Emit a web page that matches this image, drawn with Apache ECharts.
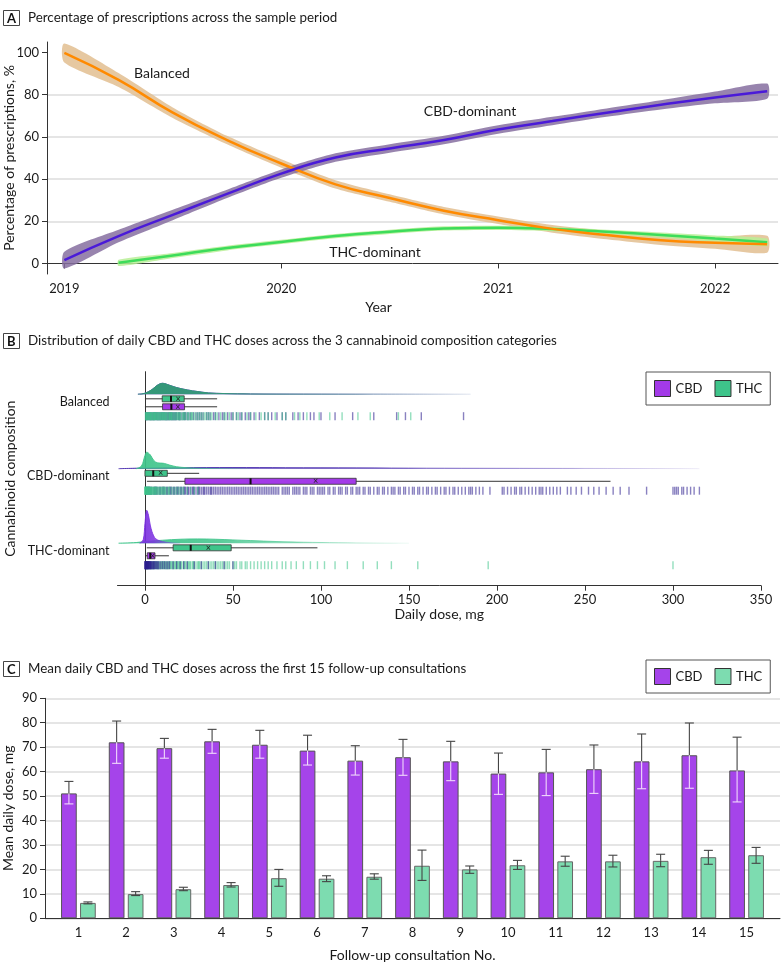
<!DOCTYPE html>
<html><head><meta charset="utf-8">
<script src="https://cdn.jsdelivr.net/npm/echarts@6/dist/echarts.min.js"></script>
<style>html,body{margin:0;padding:0;background:#fff}#c{width:783px;height:974px}</style>
</head><body><div id="c"></div>
<script>
// ---------- Panel A data ----------
const yearTicks = [2019, 2020, 2021, 2022];
const pctTicks = [0, 20, 40, 60, 80, 100];
const yearsA = [2019.0, 2019.25, 2019.5, 2019.75, 2020.0, 2020.25, 2020.5, 2020.75, 2021.0, 2021.25, 2021.5, 2021.75, 2022.0, 2022.24];
const balancedMean  = [99.8, 87, 71.5, 58.5, 47.4, 37.5, 31, 25, 20.5, 16.4, 13.5, 11, 9.8, 9.1];
const balancedUpper = [104.3, 90.3, 74, 60.5, 49.4, 39.5, 32.8, 26.8, 22.3, 18.2, 15.5, 13.2, 12.6, 13.1];
const balancedLower = [95.3, 83.7, 69, 56.5, 45.4, 35.5, 29.2, 23.2, 18.7, 14.6, 11.5, 8.8, 7.0, 5.1];
const cbdDomMean  = [1.6, 13, 23, 33, 42.6, 50.2, 54.5, 58.5, 63.5, 67.5, 71.5, 75.2, 78.7, 81.7];
const cbdDomUpper = [5.6, 16, 25.5, 35, 44.6, 52.2, 56.5, 60.5, 65.5, 69.5, 73.5, 77.4, 81.5, 85.3];
const cbdDomLower = [-2.4, 10, 20.5, 31, 40.6, 48.2, 52.5, 56.5, 61.5, 65.5, 69.5, 73.0, 75.9, 78.1];
const yearsTHC = [2019.25, 2019.5, 2019.75, 2020.0, 2020.25, 2020.5, 2020.75, 2021.0, 2021.25, 2021.5, 2021.75, 2022.0, 2022.24];
const thcDomMean  = [0.3, 3.8, 7.3, 10.2, 13, 15, 16.6, 16.9, 16.3, 15, 13.5, 11.8, 10];
const thcDomUpper = [1.8, 5.0, 8.4, 11.2, 14, 16, 17.6, 17.9, 17.3, 16, 14.7, 13.3, 11.8];
const thcDomLower = [-1.2, 2.6, 6.2, 9.2, 12, 14, 15.6, 15.9, 15.3, 14, 12.3, 10.3, 8.2];

// ---------- Panel B data ----------
const compositions = ['Balanced', 'CBD-dominant', 'THC-dominant'];
const doseTicks = [0, 50, 100, 150, 200, 250, 300, 350];
// [min, Q1, median, Q3, max]
const thcBox = [[0, 9.8, 14.8, 22.3, 41], [0, 0, 4.7, 12.7, 30.8], [1, 16, 26, 49, 98]];
const thcMean = [18.9, 8.9, 36];
const cbdBox = [[0, 10, 15, 22.5, 41], [1.1, 22.7, 60, 120, 264.5], [0.4, 1.3, 3, 5.7, 13.6]];
const cbdMean = [18.7, 97, 4.4];
// density curves [dose, relative density]
const balancedTHCDensity = [[-4,0],[0,0.03],[4,0.14],[7,0.27],[10,0.33],[14,0.27],[18,0.2],[24,0.13],[30,0.08],[36,0.04],[45,0.02],[60,0.008],[90,0.004],[130,0.002],[185,0]];
const balancedCBDDensity = [[-4,0],[0,0.03],[4,0.14],[7,0.27],[10,0.33],[14,0.27],[18,0.2],[24,0.13],[30,0.08],[36,0.04],[45,0.02],[60,0.008],[90,0.004],[130,0.002],[185,0]];
const cbdDomTHCDensity = [[-5,0],[-2,0.08],[0,0.4],[1,0.5],[3,0.42],[5,0.25],[7,0.18],[9,0.17],[11,0.16],[14,0.11],[18,0.06],[24,0.03],[32,0.012],[45,0.004],[60,0]];
const cbdDomCBDDensity = [[-15,0],[0,0.02],[20,0.03],[50,0.035],[80,0.03],[120,0.025],[160,0.016],[200,0.012],[250,0.008],[300,0.004],[315,0]];
const thcDomCBDDensity = [[-3,0],[-1,0.1],[0,0.6],[1,1.0],[2,0.85],[3,0.55],[4,0.35],[5,0.22],[6,0.14],[8,0.08],[10,0.05],[12,0.03],[15,0.01],[20,0]];
const thcDomTHCDensity = [[-15,0],[-5,0.02],[0,0.05],[10,0.09],[20,0.12],[30,0.13],[40,0.12],[50,0.1],[60,0.08],[75,0.05],[90,0.03],[110,0.015],[130,0.005],[150,0]];
// individual prescription doses (rug)
const balancedTHCDoses = [0.3,0.5,0.8,1,1.2,1.5,2,2,2.5,2.8,3,3.3,3.5,4,4,4.5,5,5,5.2,5.5,6,6,6.5,7,7,7.5,8,8,8.5,9,9,9.5,10,10,10.5,11,11,11.5,12,12,12.5,13,13.5,14,14,14.5,15,15,15.5,16,16.5,17,17.5,18,18.5,19,19.5,20,20,21,21.5,22,22.5,23,24,24.5,25,26,26.5,27,28,29,30,31,32,33,34,35,36,37,38,40,41,43,45,46,48,50,52,53,55,58,60,63,66,68,70,74,78,80,85,88,92,99,105,112,121,128,144,151];
const balancedCBDDoses = [0.5,1,1.5,2,2.5,3,3.5,4,4.5,5,5.5,6,6.5,7,7.5,8,8.5,9,9.5,10,10.5,11,11.5,12,12.5,13,13.5,14,14.5,15,15.5,16,16.5,17,17.5,18,19,19.5,20,21,22,22.5,23,24,25,26,27.5,29,30,31,32,33,35,36,37,39,40,42,44,45,47,49,50,52,54,55,57,59,60,62,65,68,70,72,75,78,80,84,87,90,94,96,100,108,118,130,143,148,157,181];
const cbdDomTHCDoses = [0,0,0.2,0.3,0.5,0.5,0.8,1,1,1.2,1.5,1.5,2,2,2.2,2.5,2.5,3,3,3.5,3.5,4,4,4.5,5,5,5.5,6,6,6.5,7,7.5,8,8.5,9,9.5,10,10.5,11,11.5,12,13,13.5,14,15,16,17,18,19,20,21,22,24,26,28,30];
const cbdDomCBDDoses = [0.5,1,1.5,2,2.5,3,3.5,4,5,5.5,6,6.5,7,8,8.5,9,10,10.5,11,12,12.5,13,14,14.5,15,16,16.5,17,18,18.5,19,20,20.5,21,22,22.5,23,24,24.5,25,26,27,27.5,28,29,30,30.5,31,32,33,33.5,34,35,36,37,37.5,38,39,40,41,42,43,44,45,46,47,48,49,50,51,52,53,54,55,56,57,58,59,60,61,62,63,64,65,66,67,68,69,70,71,72,73,74,75,76,78,79,80,81,82,84,85,86,87,88,90,91,92,94,95,96,98,99,100,101,102,104,105,107,108,110,111,112,114,115,117,118,120,121,122,124,125,127,128,130,132,133,135,136,138,140,141,142,144,145,147,148,150,152,153,155,156,158,160,161,163,165,166,168,170,171,173,175,176,178,180,182,184,185,186,188,190,192,196,203,204,206,208,210,211,213,214,216,218,220,222,224,225,226,228,230,232,234,236,240,242,245,248,252,255,258,262,266,270,275,285,300,301,302,303,305,306,308,310,312,315];
const thcDomTHCDoses = [0.5,1,1.5,2,2.5,3,3.5,4,4.5,5,5.5,6,6.5,7,7.5,8,8.5,9,9.5,10,10.5,11,11.5,12,12.5,13,13.5,14,14.5,15,15.5,16,16.5,17,17.5,18,18.5,19,19.5,20,20.5,21,22,22.5,23,24,24.5,25,25.5,26,27,27.5,28,29,30,30.5,31,32,33,34,35,36,37,38,39,40,41,42,43,44,45,46,47,48,50,51,52,54,55,57,58,60,62,64,66,68,70,72,75,78,80,83,86,90,94,98,102,108,115,124,132,140,155,195,300];
const thcDomCBDDoses = [0,0,0.2,0.3,0.5,0.5,0.8,1,1,1.2,1.2,1.5,1.5,1.8,2,2,2.2,2.5,2.5,3,3,3.3,3.5,4,4,4.5,5,5,5.5,6,6.5,7,7.5,8,9,10,11,12,13,14,16,18,20,22,24,28,32,36,40,45,50];

// ---------- Panel C data ----------
const consultations = [1,2,3,4,5,6,7,8,9,10,11,12,13,14,15];
const meanTicks = [0,10,20,30,40,50,60,70,80,90];
const cbdMeanDose  = [51.1, 72.0, 69.6, 72.4, 71.0, 68.6, 64.5, 65.9, 64.2, 59.2, 59.7, 61.0, 64.2, 66.7, 60.5];
const cbdUpperCI   = [56.0, 80.7, 73.6, 77.3, 76.9, 74.9, 70.6, 73.2, 72.4, 67.6, 69.1, 70.9, 75.4, 79.9, 74.1];
const cbdLowerCI   = [46.8, 63.4, 65.5, 67.5, 65.5, 62.7, 58.6, 58.5, 56.3, 50.7, 50.2, 51.1, 53.0, 53.2, 47.6];
const thcMeanDose  = [6.3, 9.9, 11.9, 13.6, 16.4, 16.2, 17.0, 21.5, 20.0, 21.7, 23.3, 23.3, 23.5, 25.0, 25.8];
const thcUpperCI   = [6.7, 10.9, 12.7, 14.6, 20.0, 17.4, 18.2, 27.9, 21.4, 23.7, 25.4, 25.8, 26.2, 27.8, 29.0];
const thcLowerCI   = [5.9, 9.3, 11.3, 12.8, 13.1, 15.0, 16.0, 15.5, 18.4, 20.0, 21.3, 21.0, 21.1, 22.1, 22.5];

// ---------- styles ----------
const FONT = 'Lato, "Liberation Sans", Arial, sans-serif';
const TXT = '#1a1a1a';
const AX = '#333';
const C_CBD_B = '#a33ae8', C_THC_B = '#3ec48a';
const C_CBD_C = '#a544ea', C_THC_C = '#7ddcb0';

function rgba(hex, a) {
  const n = parseInt(hex.slice(1), 16);
  return 'rgba(' + (n >> 16 & 255) + ',' + (n >> 8 & 255) + ',' + (n & 255) + ',' + a + ')';
}
function fade(hex, a0, a1) {
  return new echarts.graphic.LinearGradient(0, 0, 1, 0, [
    {offset: 0, color: rgba(hex, a0)}, {offset: 0.35, color: rgba(hex, a0 * 0.9)}, {offset: 1, color: rgba(hex, a1)}]);
}

// ---------- Panel A series ----------
function bandSeries(xs, lower, upper, color) {
  return {type: 'custom', xAxisIndex: 0, yAxisIndex: 0, silent: true, z: 1,
    data: [[xs[0], lower[0]]],
    renderItem: function (params, api) {
      const pts = [];
      for (let i = 0; i < xs.length; i++) pts.push(api.coord([xs[i], upper[i]]));
      for (let i = xs.length - 1; i >= 0; i--) pts.push(api.coord([xs[i], lower[i]]));
      return {type: 'polygon', shape: {points: pts, smooth: 0.25}, style: {fill: color}};
    }};
}
function meanLine(xs, ys, color) {
  return {type: 'line', xAxisIndex: 0, yAxisIndex: 0, smooth: true, showSymbol: false, silent: true,
    data: xs.map((x, i) => [x, ys[i]]), lineStyle: {color: color, width: 2.5}, z: 3};
}

// ---------- Panel B series ----------
const DENS_SCALE = 0.443, OFF_DENS = -0.1, OFF_THC = -0.038, OFF_CBD = 0.069, OFF_RUG = 0.195;
function densSeries(row, pts, color, z) {
  const base = row + 0.5 + OFF_DENS;
  return {type: 'line', xAxisIndex: 2, yAxisIndex: 3, smooth: 0.35, showSymbol: false, silent: true, z: z,
    data: pts.map(p => [p[0], base - p[1] * DENS_SCALE]),
    lineStyle: {color: fade(color, 0.95, 0.08), width: 1},
    areaStyle: {origin: base, color: fade(color, 0.95, 0.05), opacity: 1}};
}
function boxSeries(name, boxes, means, off, color) {
  return {type: 'custom', name: name, xAxisIndex: 2, yAxisIndex: 3, silent: true, z: 6,
    data: boxes.map((b, i) => [i, b[0], b[1], b[2], b[3], b[4], means[i]]),
    renderItem: function (params, api) {
      const yc = api.coord([0, api.value(0) + 0.5 + off])[1];
      const xs = [1, 2, 3, 4, 5, 6].map(k => api.coord([api.value(k), 0])[0]);
      const h = 6;
      return {type: 'group', children: [
        {type: 'line', shape: {x1: xs[0], y1: yc, x2: xs[4], y2: yc}, style: {stroke: '#333', lineWidth: 1}},
        {type: 'rect', shape: {x: xs[1], y: yc - h / 2, width: Math.max(xs[3] - xs[1], 1), height: h}, style: {fill: color, stroke: '#333', lineWidth: 0.8}},
        {type: 'line', shape: {x1: xs[2], y1: yc - h / 2, x2: xs[2], y2: yc + h / 2}, style: {stroke: '#111', lineWidth: 2}},
        {type: 'text', x: xs[5], y: yc, style: {text: '×', align: 'center', verticalAlign: 'middle', fontSize: 9, fontFamily: FONT, fill: '#222'}}
      ]};
    }};
}
function rugSeries(row, doses, color) {
  return {type: 'scatter', xAxisIndex: 2, yAxisIndex: 3, silent: true, symbol: 'rect', symbolSize: [1.4, 8], z: 4,
    data: doses.map(d => [d, row + 0.5 + OFF_RUG]), itemStyle: {color: rgba(color, 0.7)}};
}

// ---------- Panel C ----------
function errSeries(means, lo, hi, off, lowColor) {
  return {type: 'custom', xAxisIndex: 3, yAxisIndex: 4, silent: true, z: 5,
    data: consultations.map((c, i) => [c, means[i], lo[i], hi[i]]),
    renderItem: function (params, api) {
      const x = api.coord([api.value(0), 0])[0] + off;
      const ym = api.coord([0, api.value(1)])[1];
      const yl = api.coord([0, api.value(2)])[1];
      const yh = api.coord([0, api.value(3)])[1];
      const w = 4.5;
      return {type: 'group', children: [
        {type: 'line', shape: {x1: x, y1: yh, x2: x, y2: ym}, style: {stroke: '#444', lineWidth: 1.1}},
        {type: 'line', shape: {x1: x - w, y1: yh, x2: x + w, y2: yh}, style: {stroke: '#444', lineWidth: 1.1}},
        {type: 'line', shape: {x1: x, y1: ym, x2: x, y2: yl}, style: {stroke: lowColor, lineWidth: 1.1}},
        {type: 'line', shape: {x1: x - w, y1: yl, x2: x + w, y2: yl}, style: {stroke: lowColor, lineWidth: 1.1}}
      ]};
    }};
}

const labelFont = {fontFamily: FONT, fontSize: 13, color: TXT};
const nameFont = {fontFamily: FONT, fontSize: 14, color: TXT};
const titleFont = {fontFamily: FONT, fontSize: 13.4, color: TXT, fontWeight: 'normal'};
const letterFont = {fontFamily: FONT, fontSize: 13, color: '#111', fontWeight: 'bold'};
const gridLine = {show: true, lineStyle: {color: '#dcdcdc', width: 1.5}, showMinLine: false, showMaxLine: false};

const option = {
  animation: false,
  backgroundColor: '#fff',
  title: [
    {text: 'A', left: 3, top: 10, padding: [2, 4, 1, 4], borderColor: '#444', borderWidth: 1, textStyle: letterFont},
    {text: 'Percentage of prescriptions across the sample period', left: 28, top: 11, padding: 0, textStyle: titleFont},
    {text: 'B', left: 3, top: 333, padding: [2, 4, 1, 4], borderColor: '#444', borderWidth: 1, textStyle: letterFont},
    {text: 'Distribution of daily CBD and THC doses across the 3 cannabinoid composition categories', left: 28, top: 334, padding: 0, textStyle: titleFont},
    {text: 'C', left: 3, top: 661, padding: [2, 4, 1, 4], borderColor: '#444', borderWidth: 1, textStyle: letterFont},
    {text: 'Mean daily CBD and THC doses across the first 15 follow-up consultations', left: 28, top: 662, padding: 0, textStyle: titleFont}
  ],
  legend: [
    {left: 646, top: 372, orient: 'horizontal', itemWidth: 16, itemHeight: 16, itemGap: 12, padding: [8, 8, 8, 8],
     borderColor: '#555', borderWidth: 1, selectedMode: false, textStyle: labelFont,
     data: [{name: 'CBD', icon: 'rect', itemStyle: {color: C_CBD_B, borderColor: '#333', borderWidth: 1}},
            {name: 'THC', icon: 'rect', itemStyle: {color: C_THC_B, borderColor: '#333', borderWidth: 1}}]},
    {left: 646, top: 660, orient: 'horizontal', itemWidth: 16, itemHeight: 16, itemGap: 12, padding: [8, 8, 8, 8],
     borderColor: '#555', borderWidth: 1, selectedMode: false, textStyle: labelFont,
     data: [{name: 'CBD', icon: 'rect', itemStyle: {color: C_CBD_C, borderColor: '#333', borderWidth: 1}},
            {name: 'THC', icon: 'rect', itemStyle: {color: C_THC_C, borderColor: '#333', borderWidth: 1}}]}
  ],
  grid: [
    {left: 47, top: 42, width: 731, height: 232, outerBoundsMode: 'none', containLabel: false},
    {left: 117.5, top: 371.7, width: 643.5, height: 214, outerBoundsMode: 'none', containLabel: false},
    {left: 117.5, top: 364.4, width: 643.5, height: 223.5, outerBoundsMode: 'none', containLabel: false},
    {left: 45, top: 698.3, width: 735, height: 220, outerBoundsMode: 'none', containLabel: false}
  ],
  xAxis: [
    {type: 'value', gridIndex: 0, min: 2018.92, max: 2022.29,
     name: 'Year', nameLocation: 'middle', nameGap: 26, nameMoveOverlap: false, nameTextStyle: Object.assign({padding: [0, 68, 0, 0]}, nameFont),
     axisLine: {lineStyle: {color: AX, width: 1}}, axisTick: {length: 5, lineStyle: {color: AX}, customValues: yearTicks},
     axisLabel: Object.assign({margin: 8, customValues: yearTicks, formatter: v => String(v)}, labelFont), splitLine: {show: false}},
    {type: 'value', gridIndex: 1, min: -15.6, max: 350,
     name: 'Daily dose, mg', nameLocation: 'middle', nameGap: 22, nameMoveOverlap: false, nameTextStyle: nameFont,
     axisLine: {lineStyle: {color: AX, width: 1}}, axisTick: {length: 5, lineStyle: {color: AX}, customValues: doseTicks},
     axisLabel: Object.assign({margin: 8, customValues: doseTicks}, labelFont), splitLine: {show: false}},
    {type: 'value', gridIndex: 2, min: -15.6, max: 350, show: false},
    {type: 'value', gridIndex: 3, min: 0.3, max: 15.7,
     name: 'Follow-up consultation No.', nameLocation: 'middle', nameGap: 30, nameMoveOverlap: false, nameTextStyle: nameFont,
     axisLine: {lineStyle: {color: AX, width: 1}}, axisTick: {show: false, customValues: consultations},
     axisLabel: Object.assign({margin: 8, customValues: consultations}, labelFont), splitLine: {show: false}}
  ],
  yAxis: [
    {type: 'value', gridIndex: 0, min: -5, max: 105,
     name: 'Percentage of prescriptions, %', nameLocation: 'middle', nameGap: 31, nameMoveOverlap: false, nameTextStyle: nameFont,
     axisLine: {show: true, lineStyle: {color: AX, width: 1}}, axisTick: {show: true, length: 5, lineStyle: {color: AX}, customValues: pctTicks},
     axisLabel: Object.assign({margin: 8, customValues: pctTicks}, labelFont), splitLine: gridLine},
    {type: 'value', gridIndex: 1, min: 0, max: 1,
     name: 'Cannabinoid composition', nameLocation: 'middle', nameGap: 100, nameMoveOverlap: false, nameTextStyle: nameFont,
     axisLine: {show: true, lineStyle: {color: AX, width: 1}}, axisTick: {show: false}, axisLabel: {show: false}, splitLine: {show: false}},
    {type: 'category', gridIndex: 2, data: compositions, inverse: true,
     axisLine: {show: false}, axisTick: {show: false}, axisLabel: Object.assign({margin: 8}, labelFont, {fontSize: 12.5}), splitLine: {show: false}},
    {type: 'value', gridIndex: 2, min: 0, max: 3, inverse: true, show: false},
    {type: 'value', gridIndex: 3, min: 0, max: 90, interval: 10,
     name: 'Mean daily dose, mg', nameLocation: 'middle', nameGap: 30, nameMoveOverlap: false, nameTextStyle: nameFont,
     axisLine: {show: true, lineStyle: {color: AX, width: 1}}, axisTick: {show: true, length: 5, lineStyle: {color: AX}},
     axisLabel: Object.assign({margin: 8}, labelFont), splitLine: {show: true, lineStyle: {color: '#dcdcdc', width: 1.5}}}
  ],
  graphic: [
    {type: 'text', x: 162, y: 73, style: {text: 'Balanced', align: 'center', verticalAlign: 'middle', fontFamily: FONT, fontSize: 14, fill: TXT}},
    {type: 'text', x: 470, y: 111, style: {text: 'CBD-dominant', align: 'center', verticalAlign: 'middle', fontFamily: FONT, fontSize: 14, fill: TXT}},
    {type: 'text', x: 375, y: 252, style: {text: 'THC-dominant', align: 'center', verticalAlign: 'middle', fontFamily: FONT, fontSize: 14, fill: TXT}}
  ],
  series: [].concat(
    [bandSeries(yearsA, balancedLower, balancedUpper, 'rgba(226,190,145,0.85)'),
     bandSeries(yearsTHC, thcDomLower, thcDomUpper, 'rgba(184,238,150,0.85)'),
     bandSeries(yearsA, cbdDomLower, cbdDomUpper, 'rgba(134,110,160,0.85)')],
    [meanLine(yearsTHC, thcDomMean, '#3ddc5a'), meanLine(yearsA, balancedMean, '#ff8a00'), meanLine(yearsA, cbdDomMean, '#4a1ad8')],
    // Panel B
    [densSeries(0, balancedCBDDensity, '#6a2bd0', 2), densSeries(0, balancedTHCDensity, '#2f9e72', 3),
     densSeries(1, cbdDomCBDDensity, '#4b2fb0', 2), densSeries(1, cbdDomTHCDensity, C_THC_B, 3),
     densSeries(2, thcDomTHCDensity, C_THC_B, 2), densSeries(2, thcDomCBDDensity, '#7b2fe0', 3)],
    [rugSeries(0, balancedCBDDoses, '#2c1f8f'), rugSeries(0, balancedTHCDoses, C_THC_B),
     rugSeries(1, cbdDomCBDDoses, '#2c1f8f'), rugSeries(1, cbdDomTHCDoses, C_THC_B),
     rugSeries(2, thcDomTHCDoses, C_THC_B), rugSeries(2, thcDomCBDDoses, '#2c1f8f')],
    [boxSeries('THC', thcBox, thcMean, OFF_THC, C_THC_B), boxSeries('CBD', cbdBox, cbdMean, OFF_CBD, C_CBD_B)],
    // Panel C
    [{type: 'bar', name: 'CBD', xAxisIndex: 3, yAxisIndex: 4, barWidth: 15.7, barGap: '21%', silent: true,
      data: consultations.map((c, i) => [c, cbdMeanDose[i]]), itemStyle: {color: C_CBD_C, borderColor: '#555', borderWidth: 1}},
     {type: 'bar', name: 'THC', xAxisIndex: 3, yAxisIndex: 4, barWidth: 15.7, barGap: '21%', silent: true,
      data: consultations.map((c, i) => [c, thcMeanDose[i]]), itemStyle: {color: C_THC_C, borderColor: '#666', borderWidth: 1}},
     errSeries(cbdMeanDose, cbdLowerCI, cbdUpperCI, -9.5, '#f1d9fb'),
     errSeries(thcMeanDose, thcLowerCI, thcUpperCI, 9.5, '#444')]
  )
};
const chart = echarts.init(document.getElementById('c'), null, {width: 783, height: 974});
chart.setOption(option);
</script>
</body></html>
